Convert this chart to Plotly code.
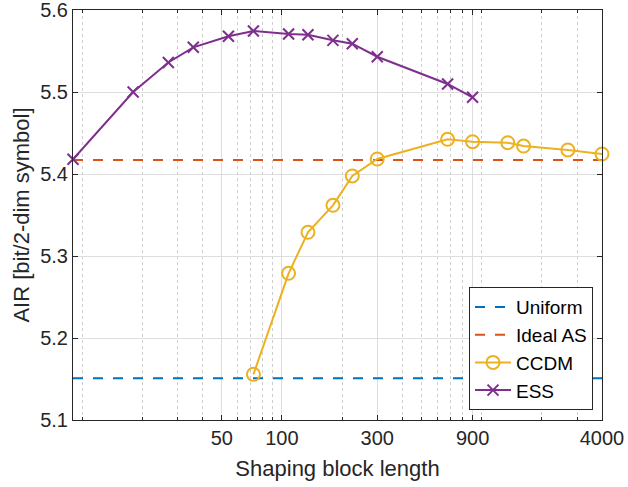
import math
import plotly.graph_objects as go

# ---- data ----
ess_x = [9, 18, 27, 36, 54, 72, 108, 135, 180, 225, 300, 675, 900]
ess_y = [5.418, 5.500, 5.536, 5.5545, 5.568, 5.5744, 5.5707, 5.5699, 5.563, 5.5589, 5.543, 5.5098, 5.4935]
ccdm_x = [72, 108, 135, 180, 225, 300, 675, 900, 1350, 1620, 2700, 4000]
ccdm_y = [5.1557, 5.2789, 5.3289, 5.3618, 5.3976, 5.4183, 5.4423, 5.4394, 5.4382, 5.4341, 5.4293, 5.4244]
uniform_air = 5.151
ideal_as_air = 5.417
x_limits = [9, 4000]
x_ticks = [50, 100, 300, 900, 4000]
x_minor = [10, 20, 30, 40, 60, 70, 80, 90, 200, 400, 500, 600, 700, 800, 1000, 2000, 3000]
y_limits = [5.1, 5.6]

FONT = "Liberation Sans, Arial, sans-serif"
TXT = "#262626"

fig = go.Figure()
fig.add_trace(go.Scatter(x=x_limits, y=[uniform_air] * 2, mode="lines", name="Uniform",
                         line=dict(color="#0072BD", width=2, dash="10px,10px")))
fig.add_trace(go.Scatter(x=x_limits, y=[ideal_as_air] * 2, mode="lines", name="Ideal AS",
                         line=dict(color="#D95319", width=2, dash="10px,10px")))
fig.add_trace(go.Scatter(x=ccdm_x, y=ccdm_y, mode="lines+markers", name="CCDM", cliponaxis=False,
                         line=dict(color="#EDB120", width=2),
                         marker=dict(symbol="circle-open", size=13, color="#EDB120",
                                     line=dict(width=2, color="#EDB120"))))
fig.add_trace(go.Scatter(x=ess_x, y=ess_y, mode="lines+markers", name="ESS", cliponaxis=False,
                         line=dict(color="#7E2F8E", width=2),
                         marker=dict(symbol="x-thin", size=11, color="#7E2F8E",
                                     line=dict(width=2, color="#7E2F8E"))))

fig.update_layout(
    width=628, height=487,
    margin=dict(l=73, r=26, t=10, b=67),
    plot_bgcolor="white", paper_bgcolor="white",
    font=dict(family=FONT, size=20, color=TXT),
    legend=dict(x=0.983, y=0.024, xanchor="right", yanchor="bottom",
                bgcolor="white", bordercolor=TXT, borderwidth=1,
                font=dict(size=19, color="#000000"), tracegroupgap=0,
                itemwidth=36),
)
fig.update_xaxes(
    type="log", range=[math.log10(x_limits[0]), math.log10(x_limits[1])], automargin=False,
    ticklabeloverflow="allow",
    tickmode="array", tickvals=x_ticks, ticktext=[str(v) for v in x_ticks],
    ticks="inside", ticklen=5, tickcolor=TXT, showline=True, linecolor=TXT, linewidth=1,
    mirror="ticks", showgrid=True, gridcolor="#dedede", gridwidth=1,
    minor=dict(tickmode="array", tickvals=x_minor, ticks="inside", ticklen=3, tickcolor=TXT,
               showgrid=True, gridcolor="#cdcdcd", griddash="dot", gridwidth=1),
    title=dict(text="Shaping block length", font=dict(size=22, color=TXT), standoff=12),
    tickfont=dict(size=20, color=TXT),
)
fig.update_yaxes(
    range=y_limits, dtick=0.1, tick0=5.1, tickformat=".1f", automargin=False,
    ticklabeloverflow="allow",
    ticks="inside", ticklen=5, tickcolor=TXT, showline=True, linecolor=TXT, linewidth=1,
    mirror="ticks", showgrid=True, gridcolor="#dedede", gridwidth=1, zeroline=False,
    title=dict(text="AIR [bit/2-dim symbol]", font=dict(size=22, color=TXT), standoff=4),
    tickfont=dict(size=20, color=TXT),
)
fig.write_html("out.html")
